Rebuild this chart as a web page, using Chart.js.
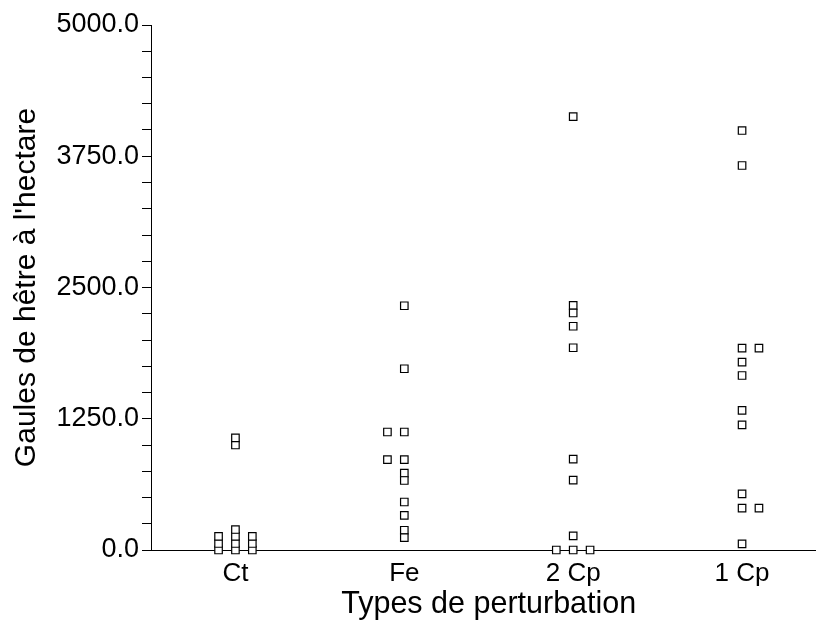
<!DOCTYPE html>
<html>
<head>
<meta charset="utf-8">
<script src="https://cdn.jsdelivr.net/npm/chart.js@4"></script>
<style>
  html, body { margin: 0; padding: 0; background: #fff; overflow: hidden; }
  #wrap { width: 816px; height: 630px; overflow: hidden; position: relative; }
  #chart { width: 833px; height: 630px; }
</style>
</head>
<body>
<div id="wrap"><canvas id="chart" width="833" height="630"></canvas></div>
<script>
// ---------------- Daten ----------------
const categories = ["Ct", "Fe", "2 Cp", "1 Cp"];

// Gaules de hêtre à l'hectare, par type de perturbation
const ctValues  = [0, 62, 129, 0, 62, 129, 195, 1000, 1067, 0, 62, 129];
const ctJitter  = [-1, -1, -1, 0, 0, 0, 0, 0, 0, 1, 1, 1];

const feValues  = [2326, 1726, 1124, 1124, 860, 860, 733, 662, 457, 329, 188, 117];
const feJitter  = [0, 0, -1, 0, -1, 0, 0, 0, 0, 0, 0, 0];

const cp2Values = [4127, 2329, 2257, 2131, 1926, 865, 665, 135, 0, 0, 0];
const cp2Jitter = [0, 0, 0, 0, 0, 0, 0, 0, -1, 0, 1];

const cp1Values = [3995, 3662, 1922, 1922, 1789, 1662, 1329, 1192, 535, 398, 398, 59];
const cp1Jitter = [0, 0, 0, 1, 0, 0, 0, 0, 0, 0, 1, 0];

const yMajorTicks = [0, 1250, 2500, 3750, 5000];
const yMinorStep = 250;

// ---------------- Diagramm ----------------
const JITTER = 0.1;
const FONT = "'Liberation Sans', Arial, sans-serif";

function toPoints(catIndex, values, jitter) {
    return values.map((v, i) => ({ x: catIndex + jitter[i] * JITTER, y: v }));
}

const series = [
    [ctValues, ctJitter],
    [feValues, feJitter],
    [cp2Values, cp2Jitter],
    [cp1Values, cp1Jitter]
];

const datasets = series.map(([vals, jit], idx) => ({
    label: categories[idx],
    data: toPoints(idx, vals, jit),
    pointStyle: "rect",
    pointRadius: 5.3,
    pointHoverRadius: 5.3,
    pointBorderWidth: 1.2,
    borderColor: "#000",
    backgroundColor: "#fff",
    clip: false
}));

Chart.defaults.font.family = FONT;
Chart.defaults.color = "#000";

// canvas is a bit wider than the window: the x axis runs past the right edge
new Chart(document.getElementById("chart").getContext("2d"), {
    type: "scatter",
    data: { datasets },
    options: {
        responsive: false,
        animation: false,
        events: [],
        layout: { padding: { top: 25, right: 0, left: 0, bottom: 0 } },
        plugins: { legend: { display: false }, tooltip: { enabled: false } },
        scales: {
            x: {
                type: "linear",
                min: -0.5,
                max: 3.5,
                afterBuildTicks: s => { s.ticks = categories.map((c, i) => ({ value: i })); },
                afterFit: s => { s.height = 80; s.paddingLeft = 0; s.paddingRight = 0; },
                grid: { display: false, drawTicks: false },
                border: { display: true, color: "#000", width: 1 },
                ticks: {
                    autoSkip: false,
                    maxRotation: 0,
                    padding: 8,
                    font: { size: 26 },
                    callback: v => categories[v]
                },
                title: {
                    display: true,
                    text: "Types de perturbation",
                    font: { size: 30.5 },
                    padding: { top: 0, bottom: 7 }
                }
            },
            y: {
                min: 0,
                max: 5000,
                afterBuildTicks: s => {
                    const t = [];
                    for (let v = 0; v <= 5000; v += yMinorStep) t.push({ value: v });
                    s.ticks = t;
                },
                afterFit: s => { s.width = 151; },
                grid: {
                    display: true,
                    drawOnChartArea: false,
                    drawTicks: true,
                    tickLength: 9,
                    color: "#000",
                    lineWidth: 1
                },
                border: { display: true, color: "#000", width: 1 },
                ticks: {
                    autoSkip: false,
                    padding: 3,
                    font: { size: 27 },
                    callback: v => yMajorTicks.includes(v) ? v.toFixed(1) : ""
                },
                title: {
                    display: true,
                    text: "Gaules de hêtre à l'hectare",
                    font: { size: 30 },
                    padding: { top: 9, bottom: 0 }
                }
            }
        }
    }
});
</script>
</body>
</html>
